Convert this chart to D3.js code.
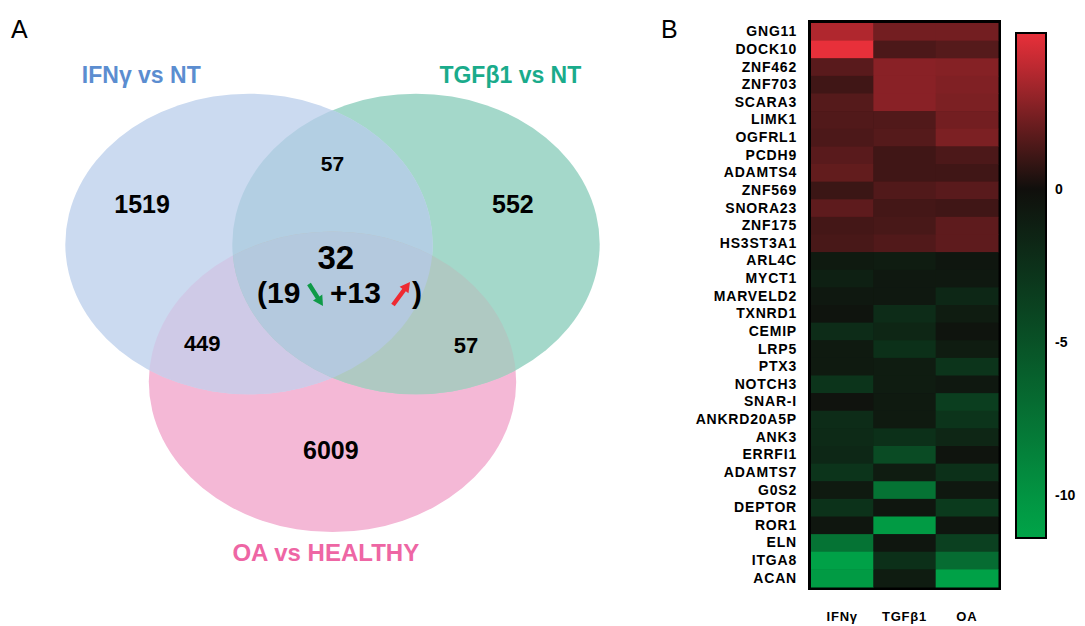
<!DOCTYPE html>
<html>
<head>
<meta charset="utf-8">
<script src="https://cdn.jsdelivr.net/npm/d3@7"></script>
<style>
  body { margin: 0; background: #fff; }
  svg { display: block; font-family: "Liberation Sans", Arial, sans-serif; }
</style>
</head>
<body>
<div id="chart-area"></div>
<script>
// ---- Venn data ----
const setNames = ['IFNγ vs NT', 'TGFβ1 vs NT', 'OA vs HEALTHY'];
// regions: IFNγ only, TGFβ1 only, OA only, IFNγ∩TGFβ1, IFNγ∩OA, TGFβ1∩OA, all three
const regionCounts = [1519, 552, 6009, 57, 449, 57, 32];
const downCount = 19;
const upCount = 13;

// ---- Heatmap data ----
const genes = ['GNG11', 'DOCK10', 'ZNF462', 'ZNF703', 'SCARA3', 'LIMK1', 'OGFRL1',
  'PCDH9', 'ADAMTS4', 'ZNF569', 'SNORA23', 'ZNF175', 'HS3ST3A1', 'ARL4C', 'MYCT1',
  'MARVELD2', 'TXNRD1', 'CEMIP', 'LRP5', 'PTX3', 'NOTCH3', 'SNAR-I', 'ANKRD20A5P',
  'ANK3', 'ERRFI1', 'ADAMTS7', 'G0S2', 'DEPTOR', 'ROR1', 'ELN', 'ITGA8', 'ACAN'];
const conditions = ['IFNγ', 'TGFβ1', 'OA'];
const ifngValues = [3.7, 5.0, 1.7, 1.1, 1.6, 1.5, 1.4, 1.7, 1.9, 1.0, 1.8, 1.2, 1.3,
  -0.8, -1.3, -0.7, -0.4, -2.2, -0.8, -0.8, -2.8, -0.3, -2.2, -2.0, -1.8, -2.8,
  -0.8, -2.6, -0.5, -7.5, -11.0, -10.5];
const tgfValues = [2.3, 1.4, 2.8, 2.8, 2.8, 1.5, 1.6, 1.1, 1.1, 1.5, 1.2, 1.3, 1.5,
  -1.0, -0.7, -0.7, -2.2, -1.7, -2.5, -1.0, -1.0, -0.8, -0.8, -2.5, -4.5, -1.0,
  -7.5, -0.5, -10.5, -0.5, -2.5, -1.0];
const oaValues = [2.3, 1.6, 2.7, 2.6, 2.5, 2.3, 2.5, 1.4, 1.1, 1.7, 1.1, 1.8, 1.8,
  -0.5, -0.7, -1.8, -1.0, -0.4, -1.0, -2.8, -0.7, -3.5, -2.8, -1.7, -0.4, -2.5,
  -0.7, -3.2, -0.5, -3.7, -7.0, -11.0];
const legendTicks = [0, -5, -10];

const svg = d3.select('#chart-area').append('svg')
  .attr('width', 1085)
  .attr('height', 626);

// Panel letters
svg.append('text').attr('x', 11).attr('y', 38).attr('font-size', '25px').text('A');
svg.append('text').attr('x', 661).attr('y', 38).attr('font-size', '25px').text('B');

// ================= Venn (panel A) =================
// layout in units, mapped with scales
const vx = d3.scaleLinear().domain([0, 1]).range([332.5, 416]);
const vy = d3.scaleLinear().domain([0, 1]).range([244, 327.5]);
const unit = 83.5;
const ellipses = [
  { cx: -1, cy: 0, color: '#cbdaf0' },
  { cx: 1, cy: 0, color: '#a4d8ca' },
  { cx: 0, cy: 1.65, color: '#f4b8d6' }
];
const rxU = 2.2, ryU = 1.8;

const defs = svg.append('defs');
ellipses.forEach((e, i) => {
  defs.append('clipPath').attr('id', 'clip' + i)
    .append('ellipse')
    .attr('cx', vx(e.cx)).attr('cy', vy(e.cy))
    .attr('rx', rxU * unit).attr('ry', ryU * unit);
});

const venn = svg.append('g');
function addEllipse(parent, e, fill) {
  parent.append('ellipse')
    .attr('cx', vx(e.cx)).attr('cy', vy(e.cy))
    .attr('rx', rxU * unit).attr('ry', ryU * unit)
    .attr('fill', fill);
}
// base sets
[2, 1, 0].forEach((i) => addEllipse(venn, ellipses[i], ellipses[i].color));
// pairwise overlaps
addEllipse(venn.append('g').attr('clip-path', 'url(#clip0)'), ellipses[1], '#b3cfe3');
addEllipse(venn.append('g').attr('clip-path', 'url(#clip0)'), ellipses[2], '#cfcae7');
addEllipse(venn.append('g').attr('clip-path', 'url(#clip1)'), ellipses[2], '#afc9c2');
// triple overlap
addEllipse(venn.append('g').attr('clip-path', 'url(#clip1)')
  .append('g').attr('clip-path', 'url(#clip0)'), ellipses[2], '#b4c9de');

// set labels
const setLabelPos = [
  { x: -2.29, y: -1.93, size: 23, color: '#5b8dd0' },
  { x: 2.13, y: -1.93, size: 23, color: '#1aab8b' },
  { x: -0.08, y: 3.8, size: 24, color: '#ee66a4' }
];
venn.selectAll('.set-label')
  .data(setNames)
  .enter().append('text')
  .attr('class', 'set-label')
  .attr('x', (d, i) => vx(setLabelPos[i].x))
  .attr('y', (d, i) => vy(setLabelPos[i].y))
  .attr('text-anchor', 'middle')
  .attr('font-size', (d, i) => setLabelPos[i].size + 'px')
  .attr('font-weight', 'bold')
  .attr('fill', (d, i) => setLabelPos[i].color)
  .text((d) => d);

// region counts
const regionPos = [
  { x: -2.28, y: -0.37, size: 25 },
  { x: 2.16, y: -0.37, size: 25 },
  { x: -0.02, y: 2.57, size: 25 },
  { x: 0.0, y: -0.88, size: 21 },
  { x: -1.56, y: 1.28, size: 22 },
  { x: 1.6, y: 1.31, size: 22 },
  { x: 0.04, y: 0.3, size: 33 }
];
venn.selectAll('.count')
  .data(regionCounts)
  .enter().append('text')
  .attr('class', 'count')
  .attr('x', (d, i) => vx(regionPos[i].x))
  .attr('y', (d, i) => vy(regionPos[i].y))
  .attr('text-anchor', 'middle')
  .attr('font-size', (d, i) => regionPos[i].size + 'px')
  .attr('font-weight', 'bold')
  .text((d) => d);

// second line: (19 ↘ +13 ↗)
const line2 = vy(0.71);
function boldText(x, str) {
  venn.append('text').attr('x', x).attr('y', line2)
    .attr('font-size', '30px').attr('font-weight', 'bold').text(str);
}
boldText(257, '(' + downCount);
boldText(330, '+' + upCount);
boldText(412, ')');

function arrow(x1, y1, x2, y2, color) {
  const dx = x2 - x1, dy = y2 - y1;
  const len = Math.sqrt(dx * dx + dy * dy);
  const ux = dx / len, uy = dy / len;
  const px = -uy, py = ux;
  const w = 2.2, hw = 5.5, hl = 10;
  const bx = x2 - ux * hl, by = y2 - uy * hl;
  const pts = [
    [x1 + px * w, y1 + py * w], [bx + px * w, by + py * w], [bx + px * hw, by + py * hw],
    [x2, y2], [bx - px * hw, by - py * hw], [bx - px * w, by - py * w], [x1 - px * w, y1 - py * w]
  ];
  venn.append('polygon').attr('points', pts.map((p) => p.join(',')).join(' ')).attr('fill', color);
}
arrow(309, 284, 323, 306, '#0f9a47');
arrow(393, 305, 410, 282, '#ee2a32');

// ================= Heatmap (panel B) =================
const x = d3.scaleBand().domain(conditions).range([811, 998]);
const y = d3.scaleBand().domain(genes).range([23, 587]);

const color = d3.scaleLinear()
  .domain([-11.2, 0, 5])
  .range(['#00a448', '#100f0c', '#e8303a'])
  .clamp(true);

const series = [ifngValues, tgfValues, oaValues];
const cells = [];
genes.forEach((g, i) => {
  conditions.forEach((c, j) => {
    cells.push({ gene: g, cond: c, value: series[j][i] });
  });
});

const heat = svg.append('g');
heat.append('rect')
  .attr('x', 809.5).attr('y', 21.5)
  .attr('width', 190).attr('height', 567)
  .attr('fill', '#111').attr('stroke', '#000').attr('stroke-width', 3);

heat.selectAll('.cell')
  .data(cells)
  .enter().append('rect')
  .attr('class', 'cell')
  .attr('x', (d) => x(d.cond))
  .attr('y', (d) => y(d.gene))
  .attr('width', x.bandwidth() + 0.5)
  .attr('height', y.bandwidth() + 0.5)
  .attr('fill', (d) => color(d.value));

// gene labels
const geneAxis = heat.append('g')
  .attr('transform', 'translate(808, 0)')
  .call(d3.axisLeft(y).tickSize(0).tickPadding(11));
geneAxis.select('.domain').remove();
geneAxis.selectAll('text')
  .attr('font-size', '14px')
  .attr('font-weight', 'bold')
  .attr('letter-spacing', '0.8px')
  .attr('font-family', '"Liberation Sans", Arial, sans-serif')
  .attr('fill', '#000');

// condition labels
const condAxis = heat.append('g')
  .attr('transform', 'translate(0, 590)')
  .call(d3.axisBottom(x).tickSize(0).tickPadding(22));
condAxis.select('.domain').remove();
condAxis.selectAll('text')
  .attr('font-size', '13px')
  .attr('font-weight', 'bold')
  .attr('letter-spacing', '0.8px')
  .attr('font-family', '"Liberation Sans", Arial, sans-serif')
  .attr('fill', '#000');

// colour bar
const barY = d3.scaleLinear().domain([5.1, -11.4]).range([33, 538]);
const grad = defs.append('linearGradient')
  .attr('id', 'bar-grad')
  .attr('x1', 0).attr('y1', 0).attr('x2', 0).attr('y2', 1);
const stopVals = [5.1, 4, 3, 2, 1, 0, -2, -4, -6, -8, -10, -11.4];
grad.selectAll('stop')
  .data(stopVals)
  .enter().append('stop')
  .attr('offset', (d) => (barY(d) - 33) / (538 - 33))
  .attr('stop-color', (d) => color(d));

svg.append('rect')
  .attr('x', 1016).attr('y', barY(5.1))
  .attr('width', 30).attr('height', barY(-11.4) - barY(5.1))
  .attr('fill', 'url(#bar-grad)')
  .attr('stroke', '#000').attr('stroke-width', 2);

const barAxis = svg.append('g')
  .attr('transform', 'translate(1046, 0)')
  .call(d3.axisRight(barY).tickValues(legendTicks).tickSize(0).tickPadding(9)
    .tickFormat((d) => String(d)));
barAxis.select('.domain').remove();
barAxis.selectAll('text')
  .attr('font-size', '14px')
  .attr('font-weight', 'bold')
  .attr('font-family', '"Liberation Sans", Arial, sans-serif')
  .attr('fill', '#000');
</script>
</body>
</html>
